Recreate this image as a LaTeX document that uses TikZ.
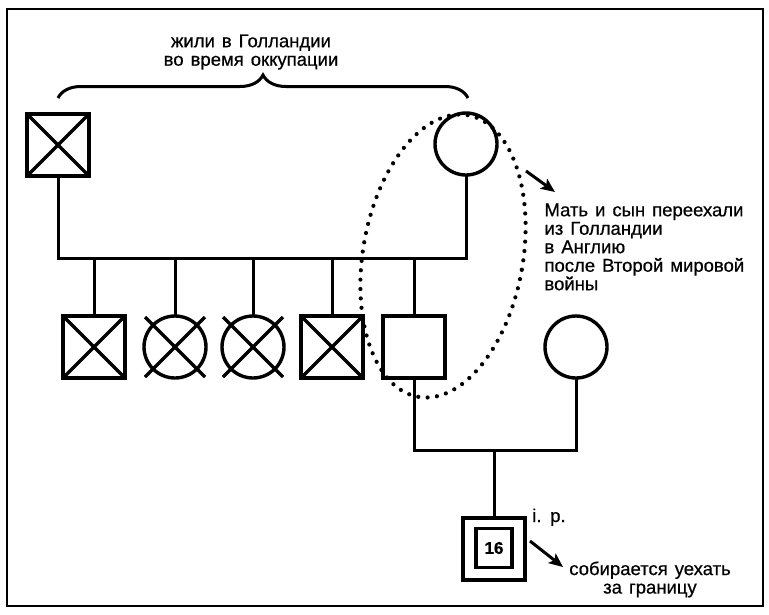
\documentclass[tikz,border=0pt]{standalone}
\usepackage{fontspec}
\setmainfont{Liberation Sans}[FakeBold=0.6]
\usetikzlibrary{calc,decorations.pathreplacing,arrows.meta}
\newcommand\lblfont{\fontsize{18.5}{18.5}\selectfont\spaceskip=7pt\relax}
\begin{document}
\begin{tikzpicture}[x=1pt,y=-1pt,
  line width=3pt,
  male/.style={draw, rectangle, minimum size=62pt, inner sep=0pt, outer sep=0pt, line width=3.4pt},
  female/.style={draw, circle, minimum size=62pt, inner sep=0pt, outer sep=0pt, line width=3.4pt},
  lbl/.style={font=\lblfont, inner sep=0pt},
  dotline/.style={line width=4.2pt, line cap=round, dash pattern=on 0pt off 9.4pt},
  arr/.style={line width=3pt, -{Stealth[length=14pt,width=12pt,inset=3pt]}},
  xline/.style={line width=3.2pt}
]
\useasboundingbox (0,0) rectangle (769,614);
\draw[line width=2pt] (7,9) rectangle (763,606);

% top generation
\node[male] (gf) at (58,145) {};
\node[female] (gm) at (466,144) {};
\draw[xline] (gf.north west) -- (gf.south east) (gf.north east) -- (gf.south west);

% children
\node[male] (c1) at (94,347) {};
\node[female] (c2) at (175,347) {};
\node[female] (c3) at (253,347) {};
\node[male] (c4) at (332,347) {};
\node[male] (son) at (414,347) {};
\node[female] (wife) at (576,347) {};
\foreach \n in {c1,c4}{
  \draw[xline] (\n.north west) -- (\n.south east) (\n.north east) -- (\n.south west);
}
\foreach \n in {c2,c3}{
  \draw[xline] ($(\n.center)+(-30,-30)$) -- ($(\n.center)+(30,30)$)
               ($(\n.center)+(30,-30)$) -- ($(\n.center)+(-30,30)$);
}

% proband
\node[male] (ip) at (494,549) {};
\node[draw, rectangle, minimum width=36pt, minimum height=39pt, inner sep=0pt, line width=3.2pt,
      font=\fontsize{17}{17}\selectfont\bfseries] (ipin) at (494,548) {16};

% marriage and descent lines
\coordinate (mA) at (262,258);
\draw (gf.south) -- (gf.south |- mA) -| (gm.south);
\foreach \n in {c1,c2,c3,c4,son}{
  \draw (\n.north) -- (\n.north |- mA);
}
\coordinate (mB) at (494,450);
\draw (son.south) -- (son.south |- mB) -| (wife.south);
\draw (ip.north) -- (mB);

% dotted ellipse
\draw[dotline, rotate around={-10:(443,256)}] (443,256) ellipse [x radius=80, y radius=143];

% brace and texts
\node[lbl, anchor=north, align=center] (t1) at (251,33) {жили в Голландии\\во время оккупации};
\draw[decorate, decoration={brace, amplitude=23pt}, line width=3pt] (58,98) -- (468,98);

\node[lbl, anchor=north west, align=left] (note) at (543,202)
  {Мать и сын переехали\\из Голландии\\в Англию\\после Второй мировой\\войны};
\coordinate (a1s) at (526,171);
\coordinate (a1e) at (555,192);
\draw[arr] (a1s) -- (a1e);

\node[lbl, anchor=base] (ipl) at (549,522) {i. p.};
\coordinate (a2s) at (530,541);
\coordinate (a2e) at (563,567);
\draw[arr] (a2s) -- (a2e);
\node[lbl, anchor=north, align=center] (abroad) at (650,560) {собирается уехать\\за границу};
\end{tikzpicture}
\end{document}
